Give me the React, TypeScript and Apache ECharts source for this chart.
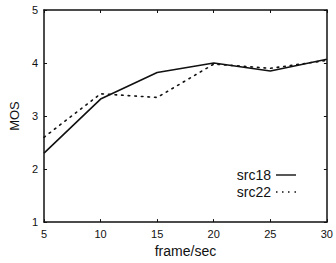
import React, { useEffect, useRef } from "react";
import * as echarts from "echarts";

const frameRates = [5, 10, 15, 20, 25, 30];
const src18 = [2.3, 3.32, 3.82, 4.0, 3.85, 4.07];
const src22 = [2.6, 3.42, 3.35, 3.98, 3.9, 4.05];
const xTicks = [5, 10, 15, 20, 25, 30];
const yTicks = [1, 2, 3, 4, 5];

export default function App() {
  const ref = useRef<HTMLDivElement>(null);
  useEffect(() => {
    if (!ref.current) return;
    const chart = echarts.init(ref.current, null, { renderer: "svg" });
    const font = "Liberation Sans";
    const axisLine = { show: true, lineStyle: { color: "#111", width: 1.5 } };
    const tick = { show: true, inside: true, length: 3, lineStyle: { color: "#111", width: 1 } };
    chart.setOption({
      animation: false,
      backgroundColor: "#fff",
      grid: { left: 42, right: 7, top: 10, bottom: 34 },
      legend: {
        orient: "vertical",
        align: "right",
        right: 35,
        top: 163,
        itemWidth: 20,
        itemHeight: 8,
        itemGap: 3,
        textStyle: { fontFamily: font, fontSize: 14, color: "#111" },
        data: [
          { name: "src18", icon: "path://M0,0H20V1.4H0Z" },
          {
            name: "src22",
            icon: "path://M0,0h1.5v1.5h-1.5z M6,0h1.5v1.5h-1.5z M12,0h1.5v1.5h-1.5z M18.5,0h1.5v1.5h-1.5z",
          },
        ],
      },
      xAxis: [
        {
          type: "value",
          min: 5,
          max: 30,
          interval: 5,
          name: "frame/sec",
          nameLocation: "middle",
          nameGap: 20,
          nameTextStyle: { fontFamily: font, fontSize: 14, color: "#111" },
          axisLine,
          axisTick: tick,
          splitLine: { show: false },
          axisLabel: {
            fontFamily: font,
            fontSize: 11,
            color: "#111",
            margin: 6,
            formatter: (v: number) => (xTicks.includes(v) ? String(v) : ""),
          },
        },
        {
          type: "value",
          position: "top",
          min: 5,
          max: 30,
          interval: 5,
          axisLine,
          axisTick: tick,
          splitLine: { show: false },
          axisLabel: { show: false },
        },
      ],
      yAxis: [
        {
          type: "value",
          min: 1,
          max: 5,
          interval: 1,
          name: "MOS",
          nameLocation: "middle",
          nameGap: 22,
          nameTextStyle: { fontFamily: font, fontSize: 13, color: "#111" },
          axisLine,
          axisTick: tick,
          splitLine: { show: false },
          axisLabel: {
            fontFamily: font,
            fontSize: 11,
            color: "#111",
            margin: 6,
            formatter: (v: number) => (yTicks.includes(v) ? String(v) : ""),
          },
        },
        {
          type: "value",
          position: "right",
          min: 1,
          max: 5,
          interval: 1,
          axisLine,
          axisTick: tick,
          splitLine: { show: false },
          axisLabel: { show: false },
        },
      ],
      series: [
        {
          name: "src18",
          type: "line",
          data: frameRates.map((f, i) => [f, src18[i]]),
          showSymbol: false,
          symbol: "none",
          lineStyle: { color: "#111", width: 1.6 },
          itemStyle: { color: "#111" },
        },
        {
          name: "src22",
          type: "line",
          data: frameRates.map((f, i) => [f, src22[i]]),
          showSymbol: false,
          symbol: "none",
          lineStyle: { color: "#111", width: 1.6, type: [1.6, 5], cap: "round" },
          itemStyle: { color: "#111" },
        },
      ],
    });
    return () => chart.dispose();
  }, []);
  return (
    <div
      ref={ref}
      style={{ position: "absolute", left: 0, top: 0, width: 336, height: 263 }}
    />
  );
}
